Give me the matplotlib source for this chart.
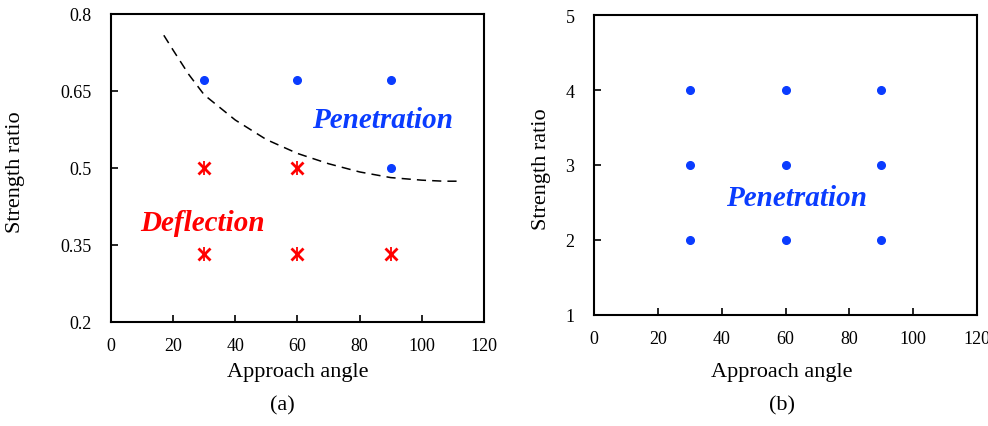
import matplotlib
matplotlib.use('Agg')
import matplotlib.pyplot as plt

plt.rcParams['font.family'] = ['Liberation Serif', 'DejaVu Serif']

# panel (a)
pen_a_x = [30, 60, 90, 90]
pen_a_y = [0.67, 0.67, 0.67, 0.5]
def_a_x = [30, 60, 30, 60, 90]
def_a_y = [0.5, 0.5, 0.333, 0.333, 0.333]
# boundary line
bound_x = [17, 20, 25, 30, 40, 50, 60, 70, 80, 90, 100, 107, 113]
bound_y = [0.758, 0.729, 0.682, 0.642, 0.593, 0.555, 0.528, 0.508, 0.492, 0.481, 0.476, 0.474, 0.474]

# panel (b)
pen_b_x = [30, 60, 90, 30, 60, 90, 30, 60, 90]
pen_b_y = [4, 4, 4, 3, 3, 3, 2, 2, 2]

blue = '#0a3cff'
red = '#ff0000'

fig = plt.figure(figsize=(9.88, 4.27), dpi=100)
ax1 = fig.add_axes([0.1123, 0.2436, 0.3776, 0.722])
ax2 = fig.add_axes([0.6012, 0.26, 0.3877, 0.7025])

ax1.plot(bound_x, bound_y, color='black', lw=1.1, ls=(0, (6, 4)))
ax1.plot(pen_a_x, pen_a_y, 'o', color=blue, ms=5.5, ls='none')
ax1.plot(def_a_x, def_a_y, marker='x', color=red, ms=8.5, mew=2, ls='none')
ax1.plot(def_a_x, def_a_y, marker='|', color=red, ms=10, mew=1.3, ls='none')
ax1.text(87.3, 0.594, 'Penetration', color=blue, fontsize=21, fontweight='bold',
         fontstyle='italic', ha='center', va='center')
ax1.text(29.4, 0.393, 'Deflection', color=red, fontsize=21, fontweight='bold',
         fontstyle='italic', ha='center', va='center')
ax1.set_xlim(0, 120)
ax1.set_ylim(0.2, 0.8)
ax1.set_xticks([0, 20, 40, 60, 80, 100, 120])
ax1.set_yticks([0.2, 0.35, 0.5, 0.65, 0.8])
ax1.set_yticklabels(['0.2', '0.35', '0.5', '0.65', '0.8'])

ax2.plot(pen_b_x, pen_b_y, 'o', color=blue, ms=5.5, ls='none')
ax2.text(63.3, 2.57, 'Penetration', color=blue, fontsize=21, fontweight='bold',
         fontstyle='italic', ha='center', va='center')
ax2.set_xlim(0, 120)
ax2.set_ylim(1, 5)
ax2.set_xticks([0, 20, 40, 60, 80, 100, 120])
ax2.set_yticks([1, 2, 3, 4, 5])

layout = [(ax1, '(a)', -0.255, -0.162, 0.5, 0.46, -0.269),
          (ax2, '(b)', -0.138, -0.189, 0.49, 0.49, -0.30)]
for ax, tag, ylx, xly, xlx, tx, ty in layout:
    for s in ax.spines.values():
        s.set_linewidth(1.5)
    ax.tick_params(direction='in', length=5, width=1.2, labelsize=13)
    ax.tick_params(axis='x', pad=11)
    ax.tick_params(axis='y', pad=14)
    ax.set_xlabel('Approach angle', fontsize=16)
    ax.set_ylabel('Strength ratio', fontsize=16)
    ax.yaxis.set_label_coords(ylx, 0.49)
    ax.xaxis.set_label_coords(xlx, xly)
    ax.xaxis.label.set_va('center')
    ax.yaxis.label.set_va('center')
    ax.text(tx, ty, tag, transform=ax.transAxes, fontsize=16, ha='center', va='center')

fig.savefig('out.png', dpi=100)
